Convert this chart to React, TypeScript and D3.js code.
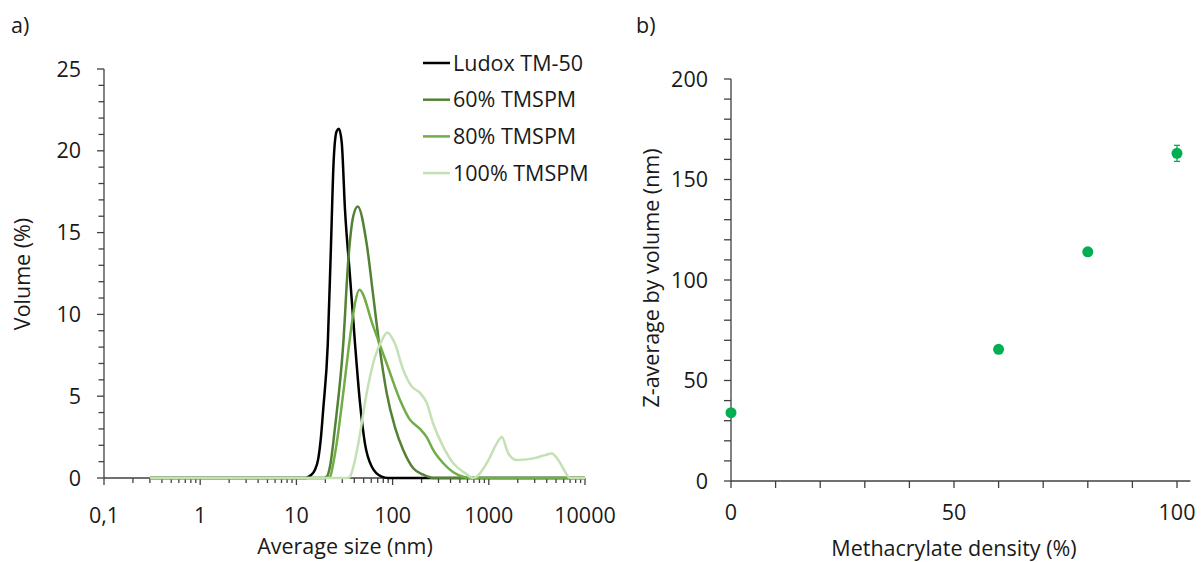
import React from "react";
import * as d3 from "d3";

// ---- panel a: DLS volume distributions (size nm, volume %) ----
const ludoxSize = [0.3, 12.5, 14, 15.6, 16.9, 18, 19.0, 21.2, 22.9, 24.4, 26.2, 27.7, 29.6, 32.0, 36.1, 40.7, 45.8, 51.6, 60.6, 77, 90, 10000];
const ludoxVol = [0, 0, 0.15, 0.5, 1.2, 2.5, 4.2, 8.2, 14.3, 19.4, 21.2, 21.35, 20.5, 16.4, 12.3, 8.2, 4.6, 2.1, 0.7, 0.08, 0, 0];

const tm60Size = [0.3, 19, 20.65, 22.5, 25.2, 30.7, 34.6, 39.0, 43.4, 53.8, 63.0, 74.0, 86.8, 105.9, 129.2, 164.1, 208.5, 265, 10000];
const tm60Vol = [0, 0, 0.08, 0.8, 3.1, 8.2, 13.3, 16.0, 16.6, 14.3, 11.1, 7.8, 5.2, 3.1, 1.7, 0.6, 0.2, 0, 0];

const tm80Size = [0.3, 20, 22.4, 24, 26.2, 30.7, 36.1, 40.7, 45.1, 63.0, 86.8, 119.4, 150, 192.7, 226.1, 265, 336.5, 427.6, 565.8, 718.6, 10000];
const tm80Vol = [0, 0, 0.08, 0.8, 2.1, 5.2, 8.6, 10.7, 11.5, 9.25, 7.0, 4.77, 3.6, 3.0, 2.5, 1.7, 0.9, 0.35, 0.05, 0, 0];

const tm100Size = [0.3, 34, 36.1, 39.5, 44.0, 53.8, 65.6, 77.0, 88.1, 105.9, 129.2, 157.9, 192.7, 226.1, 265, 336.5, 427.6, 565.8, 690, 951, 1208, 1362, 1595, 1950, 2901, 3838, 4505, 5279, 6196, 6986, 10000];
const tm100Vol = [0, 0, 0.08, 0.8, 2.1, 5.2, 7.4, 8.4, 8.9, 8.2, 6.6, 5.6, 5.2, 4.6, 3.3, 1.9, 0.9, 0.3, 0, 0.9, 2.1, 2.5, 1.5, 1.1, 1.2, 1.4, 1.5, 1.1, 0.4, 0, 0];

const seriesNames = ["Ludox TM-50", "60% TMSPM", "80% TMSPM", "100% TMSPM"];
const seriesColors = ["#000000", "#548235", "#70AD47", "#C5E0B4"];

const xTicksA = [0.1, 1, 10, 100, 1000, 10000];
const xTickLabelsA = ["0,1", "1", "10", "100", "1000", "10000"];
const yTicksA = [0, 5, 10, 15, 20, 25];

// ---- panel b: Z-average vs methacrylate density ----
const densities = [0, 60, 80, 100];
const zAverage = [34, 65.5, 114, 163];
const zError = [1, 1, 1.5, 4];
const yTicksB = [0, 50, 100, 150, 200];
const xTicksB = [0, 50, 100];

const FONT = "'Open Sans', sans-serif";
const AXIS = "#404040";
const TEXT = "#1a1a1a";
const FS = 21.5;

export default function App() {
  const xA = d3.scaleLog().domain([0.1, 10000]).range([104, 585]);
  const yA = d3.scaleLinear().domain([0, 25]).range([478, 69]);

  const line = d3
    .line<[number, number]>()
    .x((d) => xA(d[0]))
    .y((d) => yA(d[1]))
    .curve(d3.curveMonotoneX);

  const series = [
    d3.zip(ludoxSize, ludoxVol),
    d3.zip(tm60Size, tm60Vol),
    d3.zip(tm80Size, tm80Vol),
    d3.zip(tm100Size, tm100Vol),
  ] as [number, number][][];

  // minor ticks on the log axis (2..9 per decade)
  const minorA: number[] = [];
  for (let e = -1; e < 4; e++) for (let m = 2; m <= 9; m++) minorA.push(m * Math.pow(10, e));
  const minorYA = d3.range(0, 26, 1);

  const xB = d3.scaleLinear().domain([0, 100]).range([731, 1177]);
  const yB = d3.scaleLinear().domain([0, 200]).range([481, 79]);
  const minorXB = d3.range(0, 101, 10);
  const minorYB = d3.range(0, 201, 10);

  return (
    <svg
      width={1204}
      height={562}
      style={{ position: "absolute", left: 0, top: 0, background: "#fff" }}
      fontFamily={FONT}
    >
      <rect width={1204} height={562} fill="#fff" />

      {/* panel labels */}
      <text x={11} y={33} fontSize={FS} fill={TEXT}>a)</text>
      <text x={636} y={33} fontSize={FS} fill={TEXT}>b)</text>

      {/* ---------- panel a ---------- */}
      <g stroke={AXIS} strokeWidth={1.3}>
        <line x1={xA(0.1)} x2={xA(0.1)} y1={yA(0)} y2={yA(25)} />
        <line x1={xA(0.1)} x2={xA(10000)} y1={yA(0)} y2={yA(0)} />
        {minorYA.map((v) => (
          <line key={"ya" + v} x1={xA(0.1) - (v % 5 === 0 ? 7 : 5.5)} x2={xA(0.1)} y1={yA(v)} y2={yA(v)} />
        ))}
        {xTicksA.map((v) => (
          <line key={"xa" + v} x1={xA(v)} x2={xA(v)} y1={yA(0)} y2={yA(0) + 7} />
        ))}
        {minorA.map((v) => (
          <line key={"xm" + v} x1={xA(v)} x2={xA(v)} y1={yA(0)} y2={yA(0) + 5} />
        ))}
      </g>

      {series.map((s, i) => (
        <path key={seriesNames[i]} d={line(s) || ""} fill="none" stroke={seriesColors[i]} strokeWidth={2.5} />
      ))}

      {yTicksA.map((v) => (
        <text key={"yl" + v} x={xA(0.1) - 23} y={yA(v) + 7.5} fontSize={FS} textAnchor="end" fill={TEXT}>
          {v}
        </text>
      ))}
      {xTicksA.map((v, i) => (
        <text key={"xl" + v} x={xA(v)} y={523} fontSize={FS} textAnchor="middle" fill={TEXT}>
          {xTickLabelsA[i]}
        </text>
      ))}
      <text x={345} y={554} fontSize={FS} textAnchor="middle" fill={TEXT}>Average size (nm)</text>
      <text transform="translate(30,274) rotate(-90)" fontSize={FS} textAnchor="middle" fill={TEXT}>
        Volume (%)
      </text>

      {/* legend */}
      {seriesNames.map((name, i) => {
        const ly = 63 + i * 36.7;
        return (
          <g key={"lg" + name}>
            <line x1={423} x2={450} y1={ly} y2={ly} stroke={seriesColors[i]} strokeWidth={2.5} />
            <text x={453} y={ly + 7.5} fontSize={FS} fill={TEXT}>{name}</text>
          </g>
        );
      })}

      {/* ---------- panel b ---------- */}
      <g stroke={AXIS} strokeWidth={1.3}>
        <line x1={xB(0)} x2={xB(0)} y1={yB(0)} y2={yB(200)} />
        <line x1={xB(0)} x2={xB(103)} y1={yB(0)} y2={yB(0)} />
        {minorYB.map((v) => (
          <line key={"yb" + v} x1={xB(0) - 7} x2={xB(0)} y1={yB(v)} y2={yB(v)} />
        ))}
        {minorXB.map((v) => (
          <line key={"xb" + v} x1={xB(v)} x2={xB(v)} y1={yB(0)} y2={yB(0) + 7} />
        ))}
      </g>
      {yTicksB.map((v) => (
        <text key={"ybl" + v} x={xB(0) - 23} y={yB(v) + 7.5} fontSize={FS} textAnchor="end" fill={TEXT}>
          {v}
        </text>
      ))}
      {xTicksB.map((v) => (
        <text key={"xbl" + v} x={xB(v)} y={520} fontSize={FS} textAnchor="middle" fill={TEXT}>
          {v}
        </text>
      ))}
      <text x={954} y={556} fontSize={FS} textAnchor="middle" fill={TEXT}>Methacrylate density (%)</text>
      <text transform="translate(659,278) rotate(-90)" fontSize={FS} textAnchor="middle" fill={TEXT}>
        Z-average by volume (nm)
      </text>

      {densities.map((d, i) => (
        <g key={"pt" + d} stroke="#00B050" strokeWidth={1.3}>
          <line x1={xB(d)} x2={xB(d)} y1={yB(zAverage[i] - zError[i])} y2={yB(zAverage[i] + zError[i])} />
          <line x1={xB(d) - 3} x2={xB(d) + 3} y1={yB(zAverage[i] + zError[i])} y2={yB(zAverage[i] + zError[i])} />
          <line x1={xB(d) - 3} x2={xB(d) + 3} y1={yB(zAverage[i] - zError[i])} y2={yB(zAverage[i] - zError[i])} />
          <circle cx={xB(d)} cy={yB(zAverage[i])} r={5.5} fill="#00B050" stroke="none" />
        </g>
      ))}
    </svg>
  );
}
